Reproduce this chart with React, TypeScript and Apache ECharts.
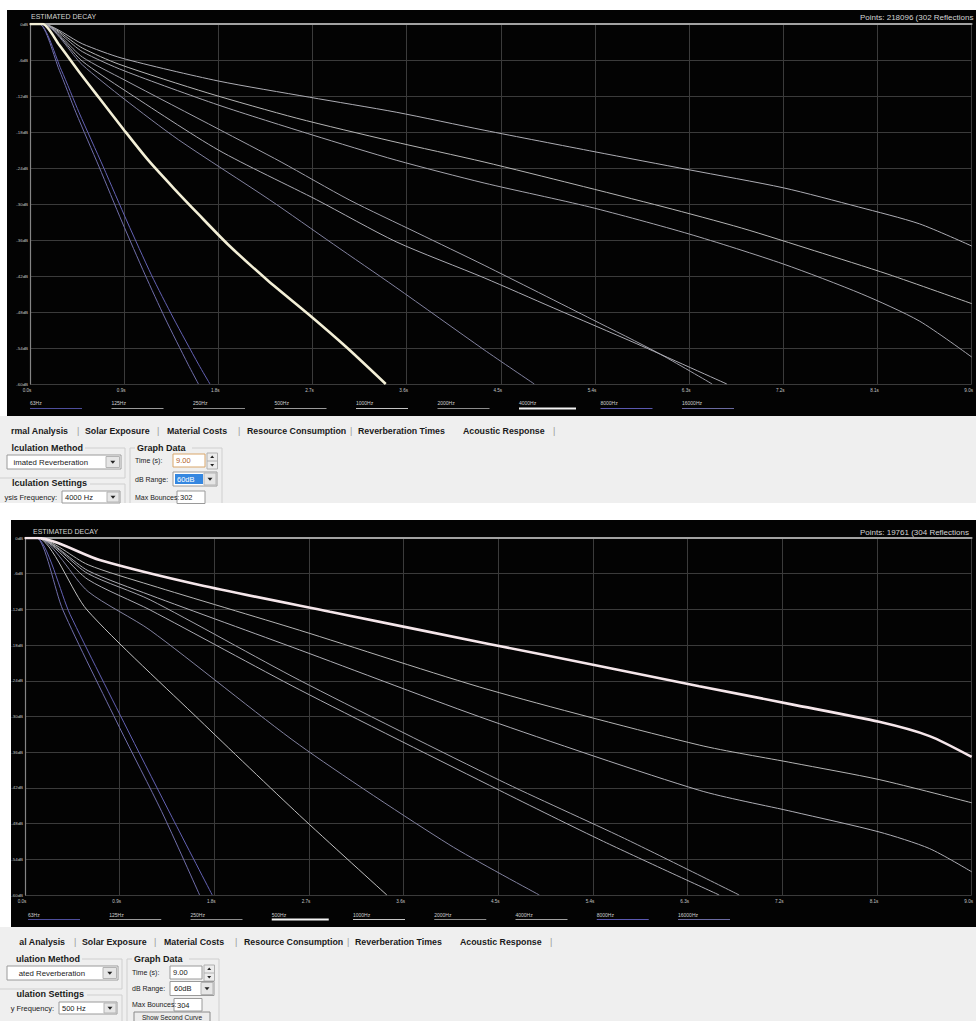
import React, { useEffect, useRef } from 'react';
import * as echarts from 'echarts';

// ---------- data ----------
const FREQUENCIES = ['63Hz', '125Hz', '250Hz', '500Hz', '1000Hz', '2000Hz', '4000Hz', '8000Hz', '16000Hz'];
const TIME_LABELS = ['0.0s', '0.9s', '1.8s', '2.7s', '3.6s', '4.5s', '5.4s', '6.3s', '7.2s', '8.1s', '9.0s'];
const DB_LABELS = ['0dB', '-6dB', '-12dB', '-18dB', '-24dB', '-30dB', '-36dB', '-42dB', '-48dB', '-54dB', '-60dB'];

// Upper screenshot (analysis frequency 4000 Hz)
const A_63 = [[0, 0], [0.12, 0], [0.5, -3.3], [0.88, -5.7], [1.8, -9.5], [2.67, -12.2], [3.5, -14.7], [4.34, -17.7], [5.4, -21.3], [6.3, -24.3], [7.2, -27.3], [7.92, -30.5], [8.5, -33.3], [9.0, -37]];
const A_125 = [[0, 0], [0.12, 0], [0.5, -4], [0.85, -6.7], [1.7, -11.5], [2.55, -15.7], [3.45, -19.5], [4.34, -23], [5.2, -26.7], [6.06, -30.5], [6.8, -34], [7.5, -37.8], [8.2, -41.7], [9.0, -46.6]];
const A_250 = [[0, 0], [0.12, 0], [0.5, -4.6], [0.9, -7.8], [1.8, -13.5], [2.7, -18.5], [3.5, -22.7], [4.34, -26.5], [5.35, -30.5], [6.3, -35], [7.2, -40], [7.95, -45], [8.5, -49.5], [9.0, -55.5]];
const A_500 = [[0, 0], [0.12, 0], [0.5, -5.5], [0.9, -9.3], [1.8, -17.5], [2.4, -23], [3.05, -29.3], [3.7, -34.8], [4.34, -40.2], [5.38, -49.3], [6.0, -54.8], [6.52, -60]];
const A_1000 = [[0, 0], [0.12, 0], [0.5, -6.2], [0.9, -11], [1.8, -21], [2.74, -29.3], [3.5, -36.3], [4.34, -42.3], [5.0, -47.3], [5.8, -53.3], [6.66, -60]];
const A_2000 = [[0, 0], [0.12, 0], [0.5, -6.8], [0.9, -12.5], [1.42, -19.3], [2.29, -29.3], [2.9, -36.7], [3.49, -43.8], [4.34, -54.3], [4.82, -60]];
const A_4000 = [[0, 0], [0.12, 0], [0.28, -3.5], [0.47, -8], [0.66, -12.3], [0.9, -17.7], [1.13, -22.7], [1.37, -27.3], [1.61, -31.7], [1.89, -36.7], [2.27, -42.7], [2.67, -48.5], [3.02, -53.8], [3.4, -60]];
const A_8000 = [[0, 0], [0.09, 0], [0.3, -7.7], [0.47, -14.8], [0.7, -23.8], [0.93, -33], [1.16, -41.8], [1.37, -49], [1.61, -56.7], [1.72, -60]];
const A_16000 = [[0, 0], [0.09, 0], [0.28, -7.7], [0.44, -14.8], [0.66, -23.8], [0.88, -33], [1.1, -41.8], [1.29, -49], [1.51, -56.7], [1.61, -60]];

// Lower screenshot (analysis frequency 500 Hz)
const B_63 = [[0, 0], [0.12, 0], [0.6, -5.5], [1.19, -9.6], [2.61, -18.8], [4.41, -30.6], [6.41, -42.4], [7.3, -46], [8.12, -49.4], [8.6, -52.2], [9.0, -56.1]];
const B_125 = [[0, 0], [0.12, 0], [0.6, -4.5], [1.19, -7.9], [2.61, -15.5], [4.41, -25.5], [6.41, -34.8], [7.3, -37.8], [8.12, -40.6], [9.0, -44.5]];
const B_250 = [[0, 0], [0.12, 0], [0.6, -6], [1.19, -10.4], [2.61, -23.9], [4.51, -40.7], [5.7, -50.5], [6.79, -60]];
const B_500 = [[0, 0], [0.12, 0], [0.71, -3.7], [1.66, -7.9], [2.9, -12.4], [4.41, -17.8], [5.4, -21.3], [6.41, -24.9], [7.3, -28], [8.12, -30.9], [8.6, -33.3], [9.0, -36.8]];
const B_1000 = [[0, 0], [0.12, 0], [0.6, -7], [1.19, -12.1], [2.61, -25.5], [4.51, -42.4], [5.5, -51], [6.6, -60]];
const B_2000 = [[0, 0], [0.12, 0], [0.6, -9], [1.19, -15.5], [2.61, -34.8], [4.03, -51.5], [4.89, -60]];
const B_4000 = [[0, 0], [0.12, 0], [0.59, -12.1], [1.66, -30.6], [2.61, -46.6], [3.44, -60]];
const B_8000 = [[0, 0], [0.11, 0], [0.43, -12.9], [1.0, -33.1], [1.4, -47], [1.78, -60]];
const B_16000 = [[0, 0], [0.11, 0], [0.36, -12.1], [0.9, -31.9], [1.3, -46], [1.66, -60]];

const PANEL_A = [A_63, A_125, A_250, A_500, A_1000, A_2000, A_4000, A_8000, A_16000];
const PANEL_B = [B_63, B_125, B_250, B_500, B_1000, B_2000, B_4000, B_8000, B_16000];

// ---------- styles ----------
const LINE_COLORS = ['#adadb4', '#b4b4b4', '#a4a4ac', '#9e9ea8', '#aaaab2', '#82829f', '#c0c0c0', '#6462b4', '#706eaa'];
const LEGEND_COLORS = ['#4e4e9c', '#9a9a9a', '#8c8c8c', '#9a9a9a', '#c4c4c4', '#8c8c8c', '#a0a0a0', '#5a58b0', '#6a6aa0'];
const UI_BG = '#efefef';
const FONT = '"Liberation Sans", Arial, sans-serif';

function txt(x: number, y: number, text: string, o: any = {}) {
  const align = o.align || 'left';
  return {
    type: 'text', x, y, z: o.z ?? 5, silent: true,
    style: {
      text,
      fill: o.fill || '#1a1a1a',
      font: `${o.weight || 'normal'} ${o.size || 7.5}px ${FONT}`,
      textAlign: align,
      textVerticalAlign: 'middle',
    },
  };
}
function rect(x: number, y: number, w: number, h: number, fill: string, stroke?: string, z = 1) {
  return {
    type: 'rect', z, silent: true,
    shape: { x, y, width: w, height: h },
    style: { fill, stroke: stroke || null, lineWidth: 1 },
  };
}
function line(x1: number, y1: number, x2: number, y2: number, stroke: string, w = 1, z = 1) {
  return { type: 'line', z, silent: true, shape: { x1, y1, x2, y2 }, style: { stroke, lineWidth: w } };
}
function poly(points: number[][], stroke: string, z = -8) {
  return { type: 'polyline', z, silent: true, shape: { points }, style: { stroke, lineWidth: 1, fill: null } };
}
function tri(cx: number, cy: number, down = true, s = 2.5) {
  const pts = down
    ? [[cx - s, cy - s / 2], [cx + s, cy - s / 2], [cx, cy + s / 2 + 0.5]]
    : [[cx - s, cy + s / 2], [cx + s, cy + s / 2], [cx, cy - s / 2 - 0.5]];
  return { type: 'polygon', z: 3, silent: true, shape: { points: pts }, style: { fill: '#222' } };
}

function buildUI(dy: number, dx: number, t: any) {
  const g: any[] = [];
  const ty = 431 + dy;
  const fb = t.frameBottom;
  const [r1, r2, r3] = t.rows;
  g.push(txt(68 + dx, ty, t.tab0, { weight: 'bold', size: 8.8, align: 'right' }));
  const tabs: [string, number][] = [
    ['|', 77], ['Solar Exposure', 85], ['|', 157], ['Material Costs', 167], ['|', 238],
    ['Resource Consumption', 247], ['|', 350], ['Reverberation Times', 358], ['Acoustic Response', 463], ['|', 553],
  ];
  tabs.forEach(([s, x]) => g.push(txt(x + dx, ty, s, s === '|' ? { size: 9, fill: '#999' } : { weight: 'bold', size: 8.8 })));

  // group frames
  const fc = '#cfcfcf';
  g.push(poly([[85 + dx, 448 + dy], [125 + dx, 448 + dy], [125 + dx, 478 + dy], [-5, 478 + dy]], fc));
  g.push(poly([[125 + dx, fb], [125 + dx, 484 + dy], [90 + dx, 484 + dy]], fc));
  g.push(poly([[130 + dx, fb], [130 + dx, 448 + dy], [135 + dx, 448 + dy]], fc));
  g.push(poly([[192 + dx, 448 + dy], [222 + dx, 448 + dy], [222 + dx, fb]], fc));

  // calculation method
  g.push(txt(83 + dx, 448 + dy, t.method, { weight: 'bold', size: 9, align: 'right' }));
  g.push(rect(7, 455 + dy, 114 + dx, 14, '#ffffff', '#9a9a9a', 1));
  g.push(txt(88 + dx, 462 + dy, t.dd, { size: 7.8, align: 'right' }));
  g.push(rect(106 + dx, 456.5 + dy, 13.5, 11, '#e6e6e6', '#b4b4b4', 2));
  g.push(tri(112.8 + dx, 462 + dy));

  // calculation settings
  g.push(txt(87 + dx, 483 + dy, t.settings, { weight: 'bold', size: 9, align: 'right' }));
  g.push(txt(57 + dx, 497 + dy, t.freqLabel, { size: 7.5, align: 'right' }));
  g.push(rect(62 + dx, 491 + dy, 58, 12, '#ffffff', '#9a9a9a', 1));
  g.push(txt(65 + dx, 497 + dy, t.freq, { size: 7.5 }));
  g.push(rect(107 + dx, 492 + dy, 12, 10, '#e6e6e6', '#b4b4b4', 2));
  g.push(tri(113 + dx, 497 + dy));

  // graph data
  g.push(txt(137 + dx, 448 + dy, 'Graph Data', { weight: 'bold', size: 9 }));
  g.push(txt(135 + dx, r1 + dy, 'Time (s):', { size: 7 }));
  g.push(rect(173 + dx, r1 - 6 + dy, 32, 13, '#ffffff', t.timeBorder, 1));
  g.push(txt(176 + dx, r1 + 0.5 + dy, '9.00', { size: 7.5, fill: t.timeFill }));
  g.push(rect(207 + dx, r1 - 7 + dy, 10.5, 16, '#ececec', '#b0b0b0', 1));
  g.push(line(207 + dx, r1 + 1 + dy, 217.5 + dx, r1 + 1 + dy, '#b0b0b0'));
  g.push(tri(212.2 + dx, r1 - 3 + dy, false, 2));
  g.push(tri(212.2 + dx, r1 + 5 + dy, true, 2));

  g.push(txt(135 + dx, r2 + dy, 'dB Range:', { size: 7 }));
  g.push(rect(173 + dx, r2 - 7 + dy, 44, 14, '#ffffff', '#9a9a9a', 1));
  if (t.highlight) g.push(rect(175 + dx, r2 - 5 + dy, 28, 10, '#3587e0', undefined, 2));
  g.push(txt(177 + dx, r2 + dy, '60dB', { size: 7.5, fill: t.highlight ? '#ffffff' : '#1a1a1a' }));
  g.push(rect(204 + dx, r2 - 6 + dy, 12, 12, '#e6e6e6', '#b4b4b4', 2));
  g.push(tri(210 + dx, r2 + dy));

  g.push(txt(135 + dx, r3 + dy, 'Max Bounces:', { size: 7 }));
  g.push(rect(177 + dx, r3 - 6 + dy, 28, 12.5, '#ffffff', '#9a9a9a', 1));
  g.push(txt(180 + dx, r3 + 0.5 + dy, t.bounces, { size: 7.5 }));

  if (t.button) {
    g.push(rect(137 + dx, 501 + dy, 76, 16, '#ececec', '#8a8a8a', 1));
    g.push(txt(175 + dx, 506 + dy, 'Show Second Curve', { size: 6.6, align: 'center' }));
  }
  return g;
}

function buildLegend(x0: number, step: number, labelY: number, lineY: number, selected: number) {
  const g: any[] = [];
  FREQUENCIES.forEach((f, i) => {
    const x = x0 + i * step;
    g.push(txt(x, labelY, f, { size: 5, fill: '#cfcfcf' }));
    const sel = i === selected;
    g.push(line(x, lineY, x + (sel ? 57 : 52), lineY, sel ? '#f4f4f4' : LEGEND_COLORS[i], sel ? 2 : 1, 3));
  });
  return g;
}

function buildSeries(panel: number[][][], idx: number, selected: number, selColor: string) {
  return panel.map((data, i) => {
    const sel = i === selected;
    const s: any = {
      type: 'line',
      name: `${FREQUENCIES[i]}-${idx}`,
      xAxisIndex: idx,
      yAxisIndex: idx,
      data,
      showSymbol: false,
      symbol: 'none',
      smooth: 0.25,
      silent: true,
      z: sel ? 6 : 3,
      lineStyle: { color: sel ? selColor : LINE_COLORS[i], width: sel ? 2.6 : 1 },
      emphasis: { disabled: true },
    };
    if (i === 0) {
      s.markLine = {
        silent: true,
        symbol: ['none', 'none'],
        label: { show: false },
        lineStyle: { color: '#a2a2a2', width: 2, type: 'solid' },
        data: [{ yAxis: 0 }],
      };
    }
    return s;
  });
}

function axisPair(idx: number) {
  const x = {
    type: 'value', gridIndex: idx, min: 0, max: 9, interval: 0.9,
    axisLine: { show: true, lineStyle: { color: '#8e8e8e', width: 2 } },
    axisTick: { show: false },
    axisLabel: {
      fontSize: 4.6, color: '#c4c4c4', fontFamily: FONT, margin: 4, align: 'center', padding: [0, 6, 0, 0],
      formatter: (v: number) => TIME_LABELS[Math.round(v / 0.9)] ?? '',
    },
    splitLine: { show: true, lineStyle: { color: '#3b3b3b', width: 1 } },
  };
  const y = {
    type: 'value', gridIndex: idx, min: -60, max: 0, interval: 6,
    axisLine: { show: true, lineStyle: { color: '#858585', width: 1.2 } },
    axisTick: { show: false },
    axisLabel: {
      fontSize: 4.4, color: '#c4c4c4', fontFamily: FONT, margin: 2,
      formatter: (v: number) => DB_LABELS[Math.round(-v / 6)] ?? '',
    },
    splitLine: { show: true, lineStyle: { color: '#3b3b3b', width: 1 } },
  };
  return { x, y };
}

export default function App() {
  const ref = useRef<HTMLDivElement>(null);
  useEffect(() => {
    if (!ref.current) return;
    const chart = echarts.init(ref.current, null, { renderer: 'svg' });

    const gfx: any[] = [];
    gfx.push(rect(7, 10, 969, 406, '#030303', undefined, -10));
    gfx.push(rect(0, 416, 976, 87, UI_BG, undefined, -10));
    gfx.push(rect(11, 520, 965, 407, '#030303', undefined, -10));
    gfx.push(rect(0, 927, 976, 94, UI_BG, undefined, -10));

    gfx.push(txt(31, 16, 'ESTIMATED DECAY', { size: 7, fill: '#d4d4d4' }));
    gfx.push(txt(860, 17, 'Points: 218096 (302 Reflections', { size: 8, fill: '#d4d4d4' }));
    gfx.push(txt(33, 531, 'ESTIMATED DECAY', { size: 7, fill: '#d4d4d4' }));
    gfx.push(txt(860, 532, 'Points: 19761 (304 Reflections', { size: 8, fill: '#d4d4d4' }));

    gfx.push(...buildLegend(30, 81.5, 403, 408.5, 6));
    gfx.push(...buildLegend(28, 81.25, 915, 919.5, 3));

    gfx.push(...buildUI(0, 0, {
      tab0: 'rmal Analysis', method: 'lculation Method', dd: 'imated Reverberation',
      settings: 'lculation Settings', freqLabel: 'ysis Frequency:', freq: '4000 Hz', bounces: '302',
      highlight: true, button: false, timeBorder: '#d9a66a', timeFill: '#b0602a', frameBottom: 503,
      rows: [460, 479, 497],
    }));
    gfx.push(rect(0, 503, 976, 17, '#ffffff', undefined, -7));
    gfx.push(...buildUI(511, -3, {
      tab0: 'al Analysis', method: 'ulation Method', dd: 'ated Reverberation',
      settings: 'ulation Settings', freqLabel: 'y Frequency:', freq: '500 Hz', bounces: '304',
      highlight: false, button: true, timeBorder: '#9a9a9a', timeFill: '#1a1a1a', frameBottom: 1030,
      rows: [461, 477.5, 493.5],
    }));

    const a0 = axisPair(0);
    const a1 = axisPair(1);

    chart.setOption({
      animation: false,
      backgroundColor: '#ffffff',
      grid: [
        { left: 30, top: 24, width: 953, height: 360 },
        { left: 25, top: 538, width: 948, height: 357 },
      ],
      xAxis: [a0.x, a1.x],
      yAxis: [a0.y, a1.y],
      series: [
        ...buildSeries(PANEL_A, 0, 6, '#f3efd6'),
        ...buildSeries(PANEL_B, 1, 3, '#f5e6ea'),
      ],
      graphic: { elements: gfx },
    });
    return () => chart.dispose();
  }, []);
  return <div ref={ref} style={{ position: 'absolute', left: 0, top: 0, width: 976, height: 1021 }} />;
}
